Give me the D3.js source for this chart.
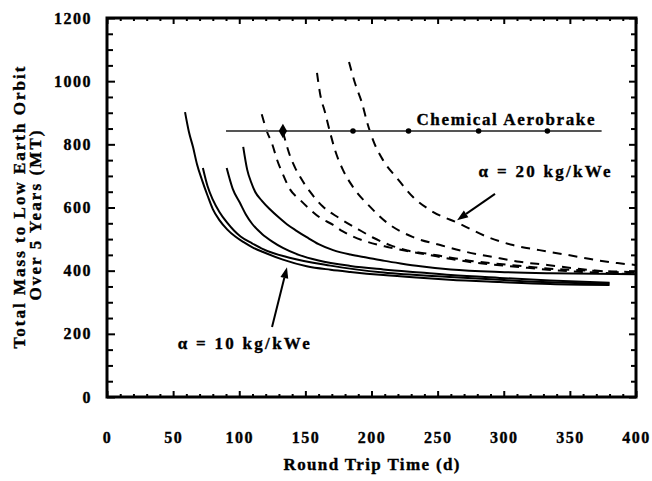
<!DOCTYPE html>
<html>
<head>
<meta charset="utf-8">
<script src="https://cdn.jsdelivr.net/npm/d3@7"></script>
<style>
  html, body { margin: 0; padding: 0; background: #fff; }
  svg { display: block; }
  text { font-family: "Liberation Serif", "Times New Roman", serif; font-weight: bold; fill: #000; stroke: #000; stroke-width: 0.35px; }
</style>
</head>
<body>
<svg id="chart" width="652" height="481"></svg>
<script>
// Axis tick values
const xTickLabels = [0, 50, 100, 150, 200, 250, 300, 350, 400];
const yTickLabels = [0, 200, 400, 600, 800, 1000, 1200];

// alpha = 10 kg/kWe family (solid), [round trip days, total mass MT]
const alpha10_a = [[59,902],[62,838],[65,792],[68,738],[72,685],[76,638],[80,595],[85,560],[91,530],[97,508],[103,491],[110,474],[118,459],[133,435],[151,414],[169,403],[184,396],[209,386],[234,378],[259,371],[297,364],[335,358],[380,355]];
const alpha10_b = [[72.5,725],[76,668],[80,625],[85,586],[91,551],[96,527],[101,508],[110,486],[118,468],[138,441],[169,416],[209,394],[259,380],[297,371],[335,363],[380,359]];
const alpha10_c = [[90.5,725],[95,660],[100.5,615],[105,578],[110,547],[117,517],[125,492],[133,472],[145,450],[160,432],[184,415],[209,404],[237,394],[260,386],[297,377],[335,369],[380,362]];
const alpha10_d = [[103,792],[106,720],[109,680],[112,650],[117,622],[123,595],[130,568],[136,547],[143,527],[151,506],[160,484],[171,465],[184,451],[197,441],[210,431],[222,423],[237,414],[260,404],[297,396],[335,392],[370,390],[400,389]];

// alpha = 20 kg/kWe family (dashed)
const alpha20_a = [[117,895],[121,840],[125,800],[128.5,752],[133,705],[138,660],[146,624],[153.5,594],[161,568],[171,545],[178,525],[186,508],[197,491],[212,475],[227,462],[242,451],[259,438],[277,426],[297,417],[318,409],[340,401],[365,395],[386,391],[400,389]];
const alpha20_b = [[133,840],[136,795],[138.5,762],[142,728],[146,697],[153.5,650],[163,604],[175,568],[190,531],[201,505],[214,481],[227,464],[242,454],[259,442],[277,430],[297,421],[318,413],[335,406],[350,403],[365,400],[386,397],[400,395]];
const alpha20_c = [[158.8,1026],[161,963],[165,899],[168.6,839],[172.4,782],[178.4,719],[186,665],[199,602],[212,551],[231,507],[252,481],[272,459],[292,443],[312,428],[333,418],[352,408],[373,399],[400,393]];
const alpha20_d = [[183,1061],[187.5,994],[192.8,931],[196.6,871],[201.1,814],[208.7,750],[219.3,693],[231.4,633],[244.2,592],[267,548],[287,508],[307,481],[327,465],[348,450],[367.5,435],[386,424],[400,418]];

// Chemical aerobrake reference
const chemicalMass = 842;
const chemicalSpan = [90, 374];
const chemicalPoints = [133, 186, 228, 281, 333];

const solidCurves = [alpha10_a, alpha10_b, alpha10_c, alpha10_d];
const dashedCurves = [alpha20_a, alpha20_b, alpha20_c, alpha20_d];

const svg = d3.select("#chart");
const x = d3.scaleLinear().domain([0, 400]).range([107, 636]);
const y = d3.scaleLinear().domain([0, 1200]).range([397, 18]);

const line = d3.line()
  .x(d => x(d[0]))
  .y(d => y(d[1]))
  .curve(d3.curveMonotoneX);

// Curves
const curves = svg.append("g").attr("fill", "none").attr("stroke", "#000");
curves.selectAll("path.solid").data(solidCurves).join("path")
  .attr("class", "solid")
  .attr("d", line)
  .attr("stroke-width", 2);
curves.selectAll("path.dashed").data(dashedCurves).join("path")
  .attr("class", "dashed")
  .attr("d", line)
  .attr("stroke-width", 2)
  .attr("stroke-dasharray", "9,7");

// Chemical aerobrake line and its markers
svg.append("line")
  .attr("x1", x(chemicalSpan[0])).attr("x2", x(chemicalSpan[1]))
  .attr("y1", y(chemicalMass)).attr("y2", y(chemicalMass))
  .attr("stroke", "#555").attr("stroke-width", 2);
svg.selectAll("path.chem").data(chemicalPoints).join("path")
  .attr("class", "chem")
  .attr("transform", d => `translate(${x(d)},${y(chemicalMass)})`)
  .attr("d", (d, i) => d3.symbol().type(i === 0 ? d3.symbolDiamond : d3.symbolCircle).size(i === 0 ? 60 : 24)())
  .attr("fill", "#000");

svg.append("text")
  .attr("x", x(234)).attr("y", y(861))
  .attr("font-size", 17)
  .attr("textLength", 178).attr("lengthAdjust", "spacing")
  .text("Chemical Aerobrake");

// Annotations with arrows
function arrow(from, to) {
  const x0 = x(from[0]), y0 = y(from[1]), x1 = x(to[0]), y1 = y(to[1]);
  const ang = Math.atan2(y1 - y0, x1 - x0);
  const len = 11, half = 4;
  const bx = x1 - len * Math.cos(ang), by = y1 - len * Math.sin(ang);
  svg.append("line")
    .attr("x1", x0).attr("y1", y0).attr("x2", bx).attr("y2", by)
    .attr("stroke", "#000").attr("stroke-width", 2);
  svg.append("path")
    .attr("d", `M${x1},${y1}L${bx + half * Math.sin(ang)},${by - half * Math.cos(ang)}L${bx - half * Math.sin(ang)},${by + half * Math.cos(ang)}Z`)
    .attr("fill", "#000");
}
arrow([293.4, 643], [264.7, 560]);
arrow([124.8, 222], [136.1, 411]);

svg.append("text")
  .attr("x", x(281)).attr("y", y(697))
  .attr("font-size", 17)
  .attr("textLength", 132).attr("lengthAdjust", "spacing")
  .text("α = 20 kg/kWe");
svg.append("text")
  .attr("x", x(53.5)).attr("y", y(152))
  .attr("font-size", 17)
  .attr("textLength", 132).attr("lengthAdjust", "spacing")
  .text("α = 10 kg/kWe");

// Frame ticks (inward) on all four sides
function ticks(axisFn, scale, values, size, transform) {
  const g = svg.append("g").attr("transform", transform)
    .call(axisFn(scale).tickValues(values).tickSize(size).tickSizeOuter(0).tickFormat(""));
  g.select(".domain").remove();
  g.selectAll(".tick line").attr("stroke", "#000").attr("stroke-width", 2);
}
const xMinor = d3.range(0, 401, 10).filter(v => v % 50 !== 0);
const xMajor = d3.range(0, 401, 50);
const yMinor = d3.range(0, 1201, 50).filter(v => v % 200 !== 0);
const yMajor = d3.range(0, 1201, 200);
ticks(d3.axisBottom, x, xMinor, -3, `translate(0,${y(0)})`);
ticks(d3.axisBottom, x, xMajor, -6, `translate(0,${y(0)})`);
ticks(d3.axisTop, x, xMinor, -3, `translate(0,${y(1200)})`);
ticks(d3.axisTop, x, xMajor, -6, `translate(0,${y(1200)})`);
ticks(d3.axisLeft, y, yMinor, -6, `translate(${x(0)},0)`);
ticks(d3.axisLeft, y, yMajor, -8, `translate(${x(0)},0)`);
ticks(d3.axisRight, y, yMinor, -5, `translate(${x(400)},0)`);
ticks(d3.axisRight, y, yMajor, -7, `translate(${x(400)},0)`);

// Frame
svg.append("rect")
  .attr("x", x(0)).attr("y", y(1200))
  .attr("width", x(400) - x(0)).attr("height", y(0) - y(1200))
  .attr("fill", "none").attr("stroke", "#000").attr("stroke-width", 3);

// Tick labels
const xAxis = svg.append("g")
  .attr("transform", `translate(0,${y(0)})`)
  .call(d3.axisBottom(x).tickValues(xTickLabels).tickSize(0).tickPadding(35).tickFormat(d3.format("d")));
xAxis.select(".domain").remove();
xAxis.selectAll("text")
  .attr("font-family", "Liberation Serif, serif").attr("font-weight", "bold")
  .attr("font-size", 16).attr("letter-spacing", 1.5).attr("fill", "#000");

const yAxis = svg.append("g")
  .attr("transform", `translate(${x(0)},0)`)
  .call(d3.axisLeft(y).tickValues(yTickLabels).tickSize(0).tickPadding(15).tickFormat(d3.format("d")));
yAxis.select(".domain").remove();
yAxis.selectAll("text")
  .attr("font-family", "Liberation Serif, serif").attr("font-weight", "bold")
  .attr("font-size", 16).attr("letter-spacing", 1.5).attr("fill", "#000");

// Axis titles
svg.append("text")
  .attr("x", (x(0) + x(400)) / 2).attr("y", 470)
  .attr("text-anchor", "middle").attr("font-size", 17)
  .attr("textLength", 176).attr("lengthAdjust", "spacing")
  .text("Round Trip Time (d)");

const yTitle = svg.append("g")
  .attr("transform", `translate(0,${(y(0) + y(1200)) / 2}) rotate(-90)`);
yTitle.append("text")
  .attr("x", 0).attr("y", 25)
  .attr("text-anchor", "middle").attr("font-size", 17)
  .attr("textLength", 282).attr("lengthAdjust", "spacing")
  .text("Total Mass to Low Earth Orbit");
yTitle.append("text")
  .attr("x", -8).attr("y", 41)
  .attr("text-anchor", "middle").attr("font-size", 17)
  .attr("textLength", 170).attr("lengthAdjust", "spacing")
  .text("Over 5 Years (MT)");
</script>
</body>
</html>
